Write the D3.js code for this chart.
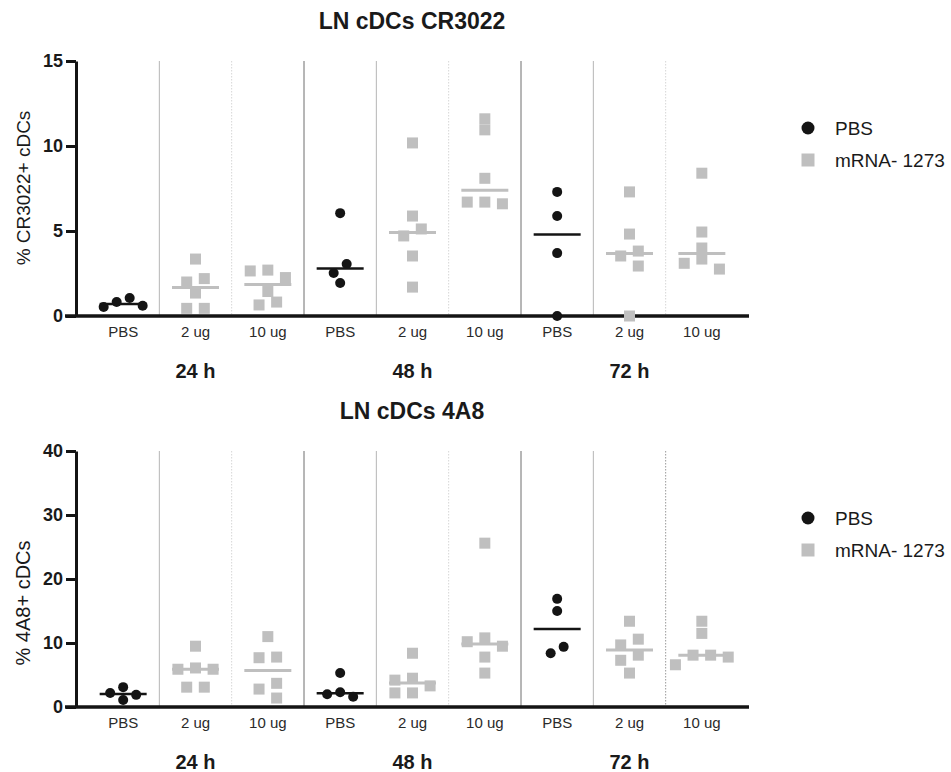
<!DOCTYPE html>
<html>
<head>
<meta charset="utf-8">
<script src="https://cdn.jsdelivr.net/npm/d3@7"></script>
<style>
  body { margin: 0; background: #fff; }
  svg { font-family: "Liberation Sans", Arial, sans-serif; }
</style>
</head>
<body>
<svg id="chart"></svg>
<script>
// Column labels, time points and legend
const categories = ["PBS", "2 ug", "10 ug", "PBS", "2 ug", "10 ug", "PBS", "2 ug", "10 ug"];
const timepoints = ["24 h", "48 h", "72 h"];
const seriesNames = ["PBS", "mRNA- 1273"];

// % CR3022+ cDCs, one list per column
const cr3022Values = [
  [0.53, 1.06, 0.6, 0.82],
  [3.35, 2.2, 2.0, 1.35, 0.45, 0.45],
  [2.65, 2.7, 2.26, 1.44, 0.65, 0.82],
  [6.05, 3.06, 2.53, 1.94],
  [10.18, 5.88, 5.12, 4.71, 3.53, 1.7],
  [11.6, 10.95, 8.1, 6.6, 6.7, 6.7],
  [7.3, 5.88, 3.7, 0],
  [7.3, 4.82, 3.82, 3.53, 2.94, 0],
  [8.4, 4.94, 4.0, 3.35, 2.76, 3.1]
];
const cr3022Ticks = [0, 5, 10, 15];

// % 4A8+ cDCs, one list per column
const a4a8Values = [
  [3.1, 1.1, 2.2, 1.9],
  [9.5, 5.9, 6.1, 5.9, 3.1, 3.1],
  [11.0, 7.7, 7.8, 3.7, 2.8, 1.4],
  [5.3, 1.6, 2.3, 2.0],
  [8.4, 4.5, 4.2, 3.3, 2.2, 2.2],
  [25.6, 10.8, 10.2, 9.5, 7.8, 5.3],
  [16.9, 15.0, 8.4, 9.4],
  [13.4, 10.6, 9.7, 8.1, 7.3, 5.3],
  [13.4, 11.5, 8.1, 6.6, 8.1, 7.8]
];
const a4a8Ticks = [0, 10, 20, 30, 40];

const width = 951, height = 772;
const svg = d3.select("#chart").attr("width", width).attr("height", height);

const black = "#141414", grey = "#bfbfbf";

// x scale shared by both panels
const x = d3.scaleBand()
    .domain(d3.range(categories.length))
    .range([87, 738]);

// spread points sideways so they don't sit on top of each other
function swarm(values, y, size, stepFactor) {
  const pts = values.map(v => ({v: v, y: y(v), dx: 0})).sort((a, b) => a.y - b.y);
  const step = size * stepFactor, thr = size * 0.95;
  const placed = [];
  pts.forEach(p => {
    for (let k = 0; k < 30; k++) {
      const off = k === 0 ? 0 : (k % 2 ? -1 : 1) * Math.ceil(k / 2) * step;
      if (placed.every(q => Math.abs(q.y - p.y) >= thr || Math.abs(q.dx - off) >= thr)) {
        p.dx = off;
        break;
      }
    }
    placed.push(p);
  });
  // recentre each run of overlapping points
  let run = [pts[0]];
  const runs = [run];
  for (let i = 1; i < pts.length; i++) {
    if (pts[i].y - pts[i - 1].y < thr) run.push(pts[i]);
    else { run = [pts[i]]; runs.push(run); }
  }
  runs.forEach(r => {
    const mid = (d3.min(r, d => d.dx) + d3.max(r, d => d.dx)) / 2;
    r.forEach(d => d.dx -= mid);
  });
  return pts;
}

function drawPanel(opts) {
  const y = d3.scaleLinear()
      .domain([0, d3.max(opts.ticks)])
      .range([opts.bottom, opts.top]);
  const g = svg.append("g");

  // title
  g.append("text")
      .attr("x", 412).attr("y", opts.top - 32)
      .attr("text-anchor", "middle")
      .style("font-size", "23px").style("font-weight", "bold")
      .attr("fill", "#1a1a1a")
      .text(opts.title);

  // column separators
  for (let i = 0; i < categories.length - 1; i++) {
    const xx = x(i) + x.bandwidth();
    const kind = i % 3;
    g.append("line")
        .attr("x1", xx).attr("x2", xx)
        .attr("y1", y.range()[1]).attr("y2", y.range()[0])
        .attr("stroke", kind === 0 ? "#b5b5b5" : kind === 1 ? (i === 7 ? opts.lastDotted : "#d6d6d6") : "#6e6e6e")
        .attr("stroke-width", 1)
        .attr("stroke-dasharray", kind === 1 ? "1.5,1.5" : null);
  }

  // y axis
  const yAxis = g.append("g")
      .attr("transform", "translate(76,0)")
      .call(d3.axisLeft(y).tickValues(opts.ticks).tickSize(10).tickSizeOuter(0).tickPadding(3));
  yAxis.select(".domain").attr("stroke", black).attr("stroke-width", 3);
  yAxis.selectAll(".tick line").attr("stroke", black).attr("stroke-width", 3);
  yAxis.selectAll(".tick text")
      .attr("fill", "#1a1a1a")
      .style("font-size", "18px").style("font-weight", "bold")
      .style("font-family", "'Liberation Sans', Arial, sans-serif");

  // x axis: labels from axisBottom, line drawn across the whole width
  const xAxis = g.append("g")
      .attr("transform", `translate(0,${y(0)})`)
      .call(d3.axisBottom(x).tickSize(0).tickPadding(10).tickFormat(i => categories[i]));
  xAxis.select(".domain").remove();
  xAxis.selectAll(".tick text")
      .attr("fill", "#2a2a2a")
      .style("font-size", "15px")
      .style("font-family", "'Liberation Sans', Arial, sans-serif");
  g.append("line")
      .attr("x1", 65).attr("x2", 749)
      .attr("y1", y(0)).attr("y2", y(0))
      .attr("stroke", black).attr("stroke-width", 3.5);

  // time point labels under the middle column of each group
  g.selectAll(".timepoint")
      .data(timepoints)
      .enter().append("text")
      .attr("x", (d, i) => x(i * 3 + 1) + x.bandwidth() / 2)
      .attr("y", y(0) + 62)
      .attr("text-anchor", "middle")
      .style("font-size", "20px").style("font-weight", "bold")
      .attr("fill", "#1a1a1a")
      .text(d => d);

  // y label
  g.append("text")
      .attr("transform", `translate(23,${opts.labelY}) rotate(-90)`)
      .attr("text-anchor", "middle")
      .attr("dominant-baseline", "central")
      .style("font-size", opts.labelSize)
      .attr("fill", "#1a1a1a")
      .text(opts.ylabel);

  // points and median lines
  opts.values.forEach((vals, i) => {
    const cx = x(i) + x.bandwidth() / 2;
    const isPBS = i % 3 === 0;
    const size = isPBS ? 10 : 11;
    const pts = swarm(vals, y, size, isPBS ? 0.65 : 0.8);

    if (isPBS) {
      g.selectAll(null).data(pts).enter().append("circle")
          .attr("cx", d => cx + d.dx)
          .attr("cy", d => d.y)
          .attr("r", size / 2)
          .attr("fill", black);
    } else {
      g.selectAll(null).data(pts).enter().append("rect")
          .attr("x", d => cx + d.dx - size / 2)
          .attr("y", d => d.y - size / 2)
          .attr("width", size).attr("height", size)
          .attr("fill", grey);
    }

    const med = d3.median(vals);
    g.append("line")
        .attr("x1", cx - 23.5).attr("x2", cx + 23.5)
        .attr("y1", y(med)).attr("y2", y(med))
        .attr("stroke", isPBS ? black : grey)
        .attr("stroke-width", isPBS ? 2.5 : 3);
  });

  // legend
  const lg = g.append("g").attr("transform", `translate(808,${opts.top + 67})`);
  lg.append("circle").attr("cx", 0).attr("cy", 0).attr("r", 6.5).attr("fill", black);
  lg.append("rect").attr("x", -6.5).attr("y", 32 - 6.5).attr("width", 13).attr("height", 13).attr("fill", grey);
  lg.selectAll("text")
      .data(seriesNames)
      .enter().append("text")
      .attr("x", 27)
      .attr("y", (d, i) => i * 32)
      .attr("dominant-baseline", "central")
      .style("font-size", "19px")
      .attr("fill", "#1a1a1a")
      .text(d => d);
}

drawPanel({
  title: "LN cDCs CR3022",
  ylabel: "% CR3022+ cDCs",
  labelY: 188, labelSize: "19px",
  values: cr3022Values,
  ticks: cr3022Ticks,
  top: 61, bottom: 316,
  lastDotted: "#d6d6d6"
});

drawPanel({
  title: "LN cDCs 4A8",
  ylabel: "% 4A8+ cDCs",
  labelY: 603, labelSize: "20px",
  values: a4a8Values,
  ticks: a4a8Ticks,
  top: 451, bottom: 707,
  lastDotted: "#9a9a9a"
});
</script>
</body>
</html>
